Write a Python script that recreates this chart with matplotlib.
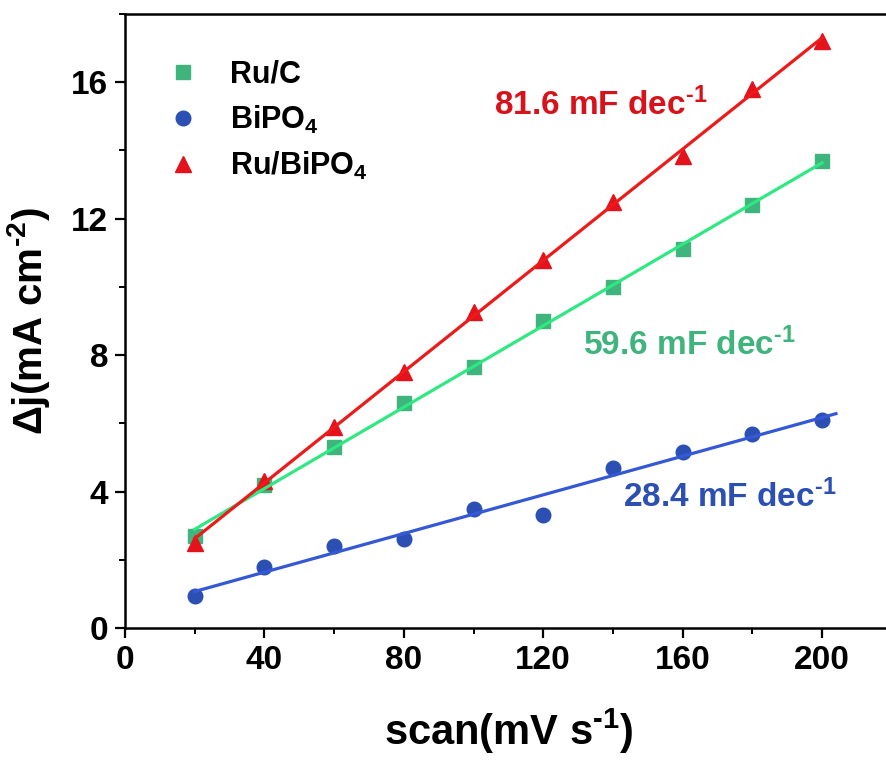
import numpy as np
import matplotlib
matplotlib.use("Agg")
import matplotlib.pyplot as plt
from matplotlib.ticker import MultipleLocator

plt.rcParams['font.family'] = ['Liberation Sans', 'DejaVu Sans']
plt.rcParams['font.weight'] = 'bold'
plt.rcParams['mathtext.fontset'] = 'custom'
plt.rcParams['mathtext.rm'] = 'Liberation Sans:bold'
plt.rcParams['mathtext.it'] = 'Liberation Sans:bold'
plt.rcParams['mathtext.bf'] = 'Liberation Sans:bold'
plt.rcParams['mathtext.default'] = 'rm'

# Data
scan = [20, 40, 60, 80, 100, 120, 140, 160, 180, 200]
ru_c = [2.7, 4.2, 5.3, 6.6, 7.65, 9.0, 10.0, 11.1, 12.4, 13.7]
bipo4 = [0.95, 1.8, 2.4, 2.6, 3.5, 3.3, 4.7, 5.15, 5.7, 6.1]
ru_bipo4 = [2.5, 4.3, 5.9, 7.5, 9.25, 10.8, 12.5, 13.85, 15.8, 17.2]
series_names = ["Ru/C", "BiPO$_4$", "Ru/BiPO$_4$"]
slope_labels = [r"59.6 mF dec$^{\text{-}1}$", r"28.4 mF dec$^{\text{-}1}$", r"81.6 mF dec$^{\text{-}1}$"]
fit_ranges = [(20, 200), (20, 204), (20, 200)]

marker_colors = ["#3fb47c", "#2b4fb3", "#e3121b"]
line_colors = ["#2ee882", "#3558d6", "#ee1a1a"]
markers = ["s", "o", "^"]
msizes = [9.5, 10.5, 12]

fig = plt.figure(figsize=(8.86, 7.6), dpi=100)
ax = fig.add_axes([125/886, 1-628/760, (220*3.485)/886, (628-14)/760])

x = np.array(scan, dtype=float)
for ys, name, mc, lc, mk, ms, (x0, x1) in zip([ru_c, bipo4, ru_bipo4], series_names,
                                             marker_colors, line_colors, markers, msizes, fit_ranges):
    y = np.array(ys)
    ax.plot(x, y, linestyle='none', marker=mk, markersize=ms, color=mc, label=name, zorder=3)
    p = np.polyfit(x, y, 1)
    xx = np.array([x0, x1])
    ax.plot(xx, np.polyval(p, xx), color=lc, lw=2.3, zorder=4)

ax.set_xlim(0, 220)
ax.set_ylim(0, 18)
ax.xaxis.set_major_locator(MultipleLocator(40))
ax.xaxis.set_minor_locator(MultipleLocator(20))
ax.yaxis.set_major_locator(MultipleLocator(4))
ax.yaxis.set_minor_locator(MultipleLocator(2))
ax.tick_params(which='major', direction='out', length=7, width=1.6, labelsize=24, pad=5)
ax.tick_params(which='minor', direction='out', length=4.5, width=1.4)
for lab in ax.get_xticklabels() + ax.get_yticklabels():
    lab.set_fontweight('bold')
for s in ax.spines.values():
    s.set_linewidth(1.8)

ax.set_xlabel(r"scan(mV s$^{\text{-}1}$)", fontsize=30, fontweight='bold', labelpad=22)
ax.set_ylabel(r"Δj(mA cm$^{\text{-}2}$)", fontsize=29, fontweight='bold', labelpad=14)

leg = ax.legend(loc='upper left', bbox_to_anchor=(0.01, 0.97), frameon=False,
                prop={'size': 22, 'weight': 'bold'}, handletextpad=0.8,
                labelspacing=0.45, handlelength=1.5)

ax.text(136.6, 15.35, slope_labels[2], color="#d8121b", fontsize=24, fontweight='bold',
        ha='center', va='center')
ax.text(162, 8.3, slope_labels[0], color="#3fb47c", fontsize=24, fontweight='bold',
        ha='center', va='center')
ax.text(173.6, 3.85, slope_labels[1], color="#2b4fb3", fontsize=24, fontweight='bold',
        ha='center', va='center')

fig.savefig("out.png", dpi=100)
